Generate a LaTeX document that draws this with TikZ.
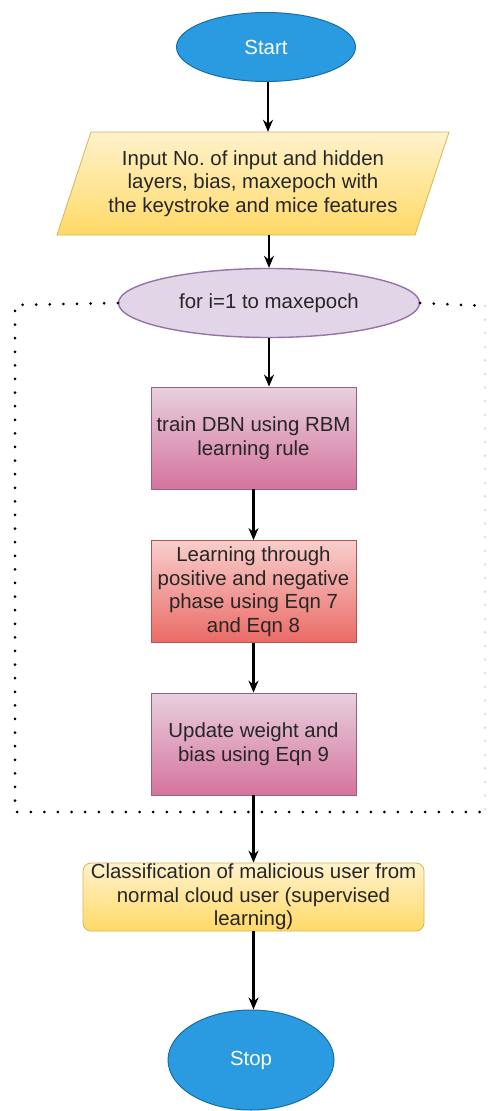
\documentclass[tikz,border=0pt]{standalone}
\usepackage{fontspec}
\setmainfont{Liberation Sans}
\usetikzlibrary{shapes.geometric,arrows.meta}
\frenchspacing

\definecolor{termfill}{HTML}{2A9BE0}
\definecolor{termline}{HTML}{1A6CA8}
\definecolor{yeltop}{HTML}{FFF2CC}
\definecolor{yelbot}{HTML}{FFD966}
\definecolor{yelline}{HTML}{D6B656}
\definecolor{loopfill}{HTML}{E1D5E7}
\definecolor{loopline}{HTML}{9673A6}
\definecolor{pinktop}{HTML}{E8D0DF}
\definecolor{pinkbot}{HTML}{D5739D}
\definecolor{pinkline}{HTML}{996185}
\definecolor{redtop}{HTML}{F8CECC}
\definecolor{redbot}{HTML}{EA6B66}
\definecolor{redline}{HTML}{B85450}
\definecolor{txt}{HTML}{262626}

\tikzset{
  every node/.style={font=\fontsize{20.4}{23.5}\selectfont, text=txt, align=center},
  term/.style={ellipse, draw=termline, line width=1pt, fill=termfill,
    inner sep=0pt, text=white},
  loopnode/.style={ellipse, draw=loopline, line width=1.4pt, fill=loopfill,
    inner sep=0pt},
  stepbox/.style={rectangle, draw=pinkline, line width=0.8pt,
    top color=pinktop, bottom color=pinkbot,
    minimum width=205pt, minimum height=102pt, inner sep=0pt},
  redbox/.style={stepbox, draw=redline, top color=redtop, bottom color=redbot},
  resultbox/.style={rectangle, rounded corners=8pt, draw=yelline, line width=0.8pt,
    top color=yeltop, bottom color=yelbot,
    minimum width=341pt, minimum height=68pt, inner sep=0pt},
  flow/.style={draw=black, line width=2.2pt, -{Stealth[length=12pt,width=10pt]}},
  dots/.style={line width=3pt, dash pattern=on 0pt off 13.6pt, line cap=round},
}

\begin{document}
\begin{tikzpicture}[x=1pt,y=-1pt]
  \useasboundingbox (0,0) rectangle (488,1111);

  % terminals
  \node[term, minimum width=179pt, minimum height=69pt] (start) at (266,47) {Start};
  \node[term, minimum width=166pt, minimum height=100pt] (stop) at (251,1060) {Stop};

  % input parallelogram
  \shade[top color=yeltop, bottom color=yelbot, draw=yelline, line width=0.8pt]
    (91,132) -- (449,132) -- (415,235) -- (57,235) -- cycle;
  \node[minimum width=300pt, minimum height=103pt, inner sep=0pt] (input) at (253,183.5)
    {Input No. of input and hidden\\layers, bias, maxepoch with\\the keystroke and mice features};

  % loop header
  \node[loopnode, minimum width=301pt, minimum height=69pt] (loop) at (269,303)
    {for i=1 to maxepoch};

  % loop body
  \node[stepbox] (train) at (253.5,438) {train DBN using RBM\\learning rule};
  \node[redbox] (learn) at (253.5,591.5)
    {Learning through\\positive and negative\\phase using Eqn 7\\and Eqn 8};
  \node[stepbox] (update) at (253.5,744) {Update weight and\\bias using Eqn 9};

  % classification
  \node[resultbox] (class) at (253.5,897)
    {Classification of malicious user from\\normal cloud user (supervised\\learning)};

  % loop frame
  \coordinate (tl) at (15,305);
  \coordinate (bl) at (15,812);
  \coordinate (br) at (488,812);
  \coordinate (tr) at (488,306);
  \coordinate (rt) at (485,306);
  \coordinate (rb) at (485,812);
  \draw[dots] (loop.west) -- (tl) -- (bl) -- (br);
  \draw[dots] (loop.east) -- (tr);
  \draw[dots, black!12] (rt) -- (rb);

  % connectors
  \draw[flow] ([xshift=2pt]start.south) -- ([xshift=2pt]start.south |- input.north);
  \draw[flow] (loop.north |- input.south) -- (loop.north);
  \draw[flow] (loop.south) -- (loop.south |- train.north);
  \draw[flow] (train) -- (learn);
  \draw[flow] (learn) -- (update);
  \draw[flow] (update) -- (class);
  \draw[flow] (class.south) -- (class.south |- stop.north);
\end{tikzpicture}
\end{document}
